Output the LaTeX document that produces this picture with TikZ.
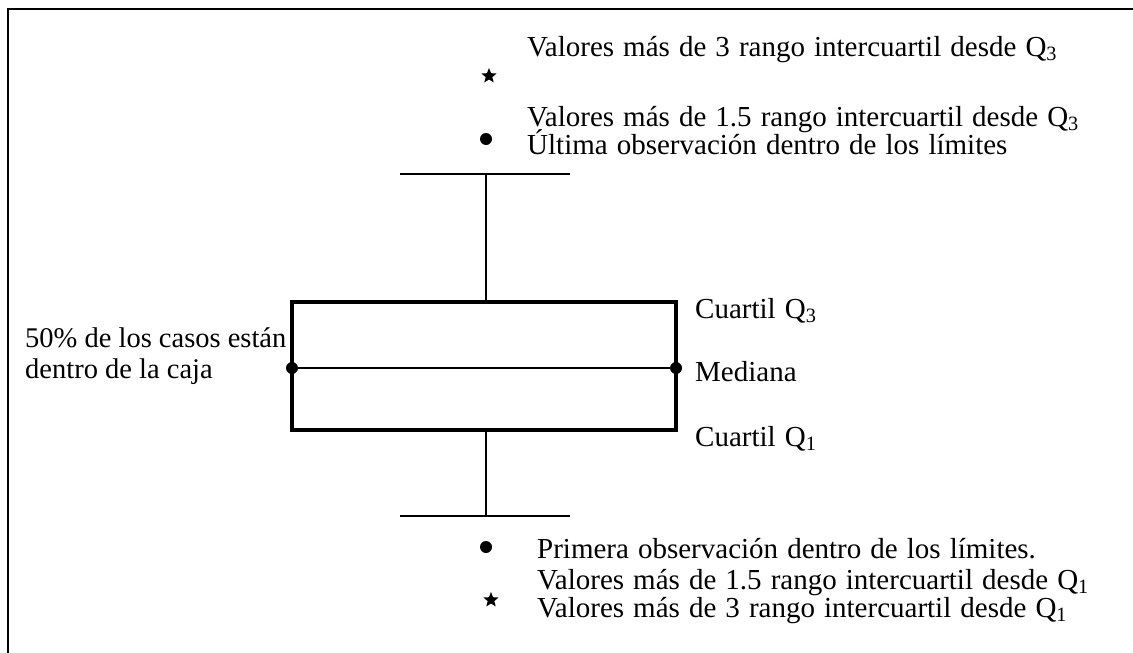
\documentclass[tikz,border=0pt]{standalone}
\usepackage{fontspec}
\setmainfont[WordSpace=1.25]{Liberation Serif}
\newfontfamily\plainserif{Liberation Serif}
\usetikzlibrary{shapes.geometric}
\tikzset{
  lbl/.style={anchor=base west, inner sep=0pt},
  outlier/.style={star, star points=5, star point ratio=2.3, fill, inner sep=0pt, minimum size=16pt},
  obs/.style={circle, fill, inner sep=0pt, minimum size=12pt},
}
\begin{document}
\begin{tikzpicture}[x=1pt, y=-1pt, font=\fontsize{29}{32}\selectfont]
\useasboundingbox (0,0) rectangle (1133,653);
\draw[line width=2pt](7.5,653)--(7.5,8.5)--(1133,8.5);

% caja y bigotes
\draw[line width=4pt](292,302) rectangle (676,430);
\draw[line width=1.5pt](292,368)--(676,368);
\draw[line width=2.5pt](486,302)--(486,174) (400,174)--(570,174);
\draw[line width=2.5pt](486,430)--(486,516) (400,516)--(570,516);

\foreach \x/\y in {292/368, 676/368}
{
    \fill(\x,\y)circle (6);
}
\node[obs] (ultima) at (486,139) {};
\node[obs] (primera) at (486,547) {};
\node[outlier] (extsup) at (489,76) {};
\node[outlier] (extinf) at (491,600) {};

\node[lbl] (t1) at (527,56) {Valores más de 3 rango intercuartil desde Q\textsubscript{3}};
\node[lbl] (t2) at (527,126) {Valores más de 1.5 rango intercuartil desde Q\textsubscript{3}};
\node[lbl] (t3) at (527,154) {Última observación dentro de los límites};
\node[lbl] (q3) at (695,318) {Cuartil Q\textsubscript{3}};
\node[lbl] (med) at (695,381) {Mediana};
\node[lbl] (q1) at (695,446) {Cuartil Q\textsubscript{1}};
\node[lbl, font=\plainserif\fontsize{28.5}{32}\selectfont] (caja1) at (25,347) {50\% de los casos están};
\node[lbl, font=\plainserif\fontsize{28.5}{32}\selectfont] (caja2) at (25,378) {dentro de la caja};
\node[lbl] (b1) at (537,558) {Primera observación dentro de los límites.};
\node[lbl] (b2) at (537,589) {Valores más de 1.5 rango intercuartil desde Q\textsubscript{1}};
\node[lbl] (b3) at (537,617) {Valores más de 3 rango intercuartil desde Q\textsubscript{1}};
\end{tikzpicture}
\end{document}
